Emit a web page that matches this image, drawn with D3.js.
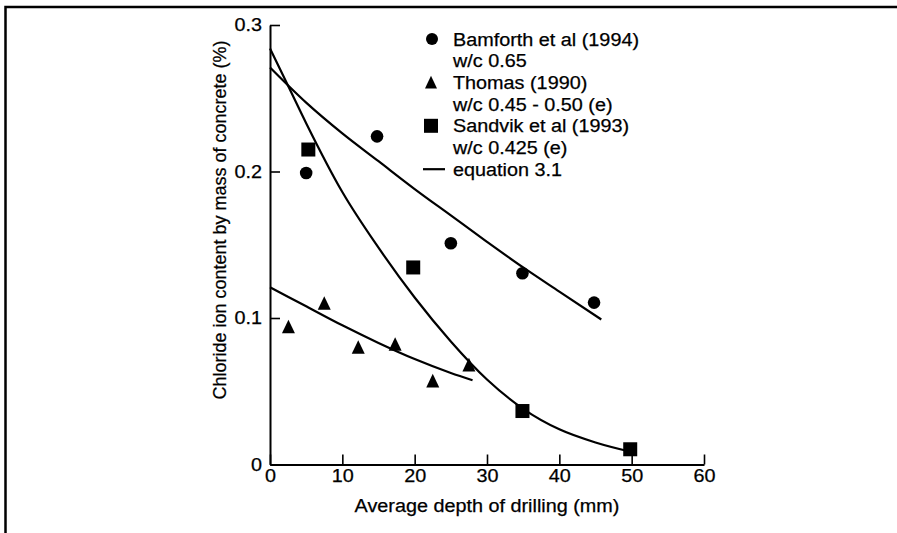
<!DOCTYPE html>
<html>
<head>
<meta charset="utf-8">
<script src="https://cdn.jsdelivr.net/npm/d3@7"></script>
<style>
  html, body { margin: 0; padding: 0; background: #fff; }
  svg { display: block; }
  text { font-family: "Liberation Sans", Arial, Helvetica, sans-serif; fill: #000; stroke: #000; stroke-width: 0.25px; }
</style>
</head>
<body>
<svg id="chart" width="897" height="533"></svg>
<script>
// Measured chloride profiles: depth (mm) vs chloride content (% by mass of concrete)
const bamforthDepth  = [5, 14.8, 25, 34.9, 44.8];
const bamforthValue  = [0.199, 0.224, 0.151, 0.1305, 0.1105];
const thomasDepth    = [2.55, 7.5, 12.2, 17.3, 22.5, 27.5];
const thomasValue    = [0.094, 0.110, 0.080, 0.082, 0.057, 0.068];
const sandvikDepth   = [5.3, 19.8, 34.9, 49.8];
const sandvikValue   = [0.215, 0.1345, 0.0365, 0.0104];

// Fitted profiles (equation 3.1)
const fitBamforthDepth = [0, 5, 10, 15, 20, 25, 30, 35, 40, 45.8];
const fitBamforthValue = [0.271, 0.247, 0.226, 0.207, 0.188, 0.170, 0.152, 0.1345, 0.118, 0.099];
const fitThomasDepth   = [0, 5, 10, 15, 20, 25, 28];
const fitThomasValue   = [0.121, 0.108, 0.095, 0.083, 0.072, 0.0625, 0.0575];
const fitSandvikDepth  = [0, 2.65, 5, 10, 15, 20, 25, 30, 35, 40, 45, 50];
const fitSandvikValue  = [0.284, 0.257, 0.233, 0.186, 0.148, 0.114, 0.084, 0.058, 0.038, 0.024, 0.015, 0.0085];

const xTicks = [0, 10, 20, 30, 40, 50, 60];
const yTicks = [0, 0.1, 0.2, 0.3];
const yTickLabels = ["0", "0.1", "0.2", "0.3"];

const legendLines = [
  "Bamforth et al (1994)", "w/c 0.65",
  "Thomas (1990)", "w/c 0.45 - 0.50 (e)",
  "Sandvik et al (1993)", "w/c 0.425 (e)",
  "equation 3.1"
];
const legendSymbols = ["circle", null, "triangle", null, "square", null, "line"];

const xTitle = "Average depth of drilling (mm)";
const yTitle = "Chloride ion content by mass of concrete (%)";

const svg = d3.select("#chart");
const FONT = 18;
const STRETCH = 1.1;

// widen horizontal text glyphs a little
function stretch(sel, k) {
  sel.each(function () {
    const w = this.getComputedTextLength();
    d3.select(this).attr("textLength", w * k).attr("lengthAdjust", "spacingAndGlyphs");
  });
}

svg.append("rect").attr("width", 897).attr("height", 533).attr("fill", "#fff");

// page frame
svg.append("path")
  .attr("d", "M5.5,533 L5.5,7 L897,7")
  .attr("fill", "none").attr("stroke", "#000").attr("stroke-width", 2.5);

const x = d3.scaleLinear().domain([0, 60]).range([270, 704]);
const y = d3.scaleLinear().domain([0, 0.3]).range([464.5, 25]);

// x axis
const gx = svg.append("g").attr("transform", `translate(0,${y(0)})`)
  .call(d3.axisBottom(x).tickValues(xTicks).tickFormat(d3.format("d"))
        .tickSizeInner(-10).tickSizeOuter(0).tickPadding(5));
gx.select(".domain").attr("stroke-width", 2);
gx.selectAll(".tick line").attr("stroke-width", 1.6);
gx.selectAll(".tick text").attr("font-size", FONT).attr("font-family", null).call(stretch, STRETCH);

// y axis
const gy = svg.append("g").attr("transform", `translate(${x(0)},0)`)
  .call(d3.axisLeft(y).tickValues(yTicks).tickFormat((d, i) => yTickLabels[i])
        .tickSizeInner(-10).tickSizeOuter(0).tickPadding(8));
gy.select(".domain").attr("stroke-width", 2);
gy.selectAll(".tick line").attr("stroke-width", 1.6);
gy.selectAll(".tick text").attr("font-size", FONT).attr("font-family", null).call(stretch, STRETCH);

// axis titles
svg.append("text").attr("x", 487).attr("y", 512).attr("text-anchor", "middle")
  .attr("font-size", FONT).text(xTitle).call(stretch, STRETCH);
svg.append("text").attr("transform", "translate(226,220) rotate(-90)")
  .attr("text-anchor", "middle").attr("font-size", FONT).text(yTitle);

// fitted curves
const line = d3.line().x(d => x(d[0])).y(d => y(d[1])).curve(d3.curveMonotoneX);
const fits = [
  d3.zip(fitBamforthDepth, fitBamforthValue),
  d3.zip(fitThomasDepth, fitThomasValue),
  d3.zip(fitSandvikDepth, fitSandvikValue)
];
svg.append("g").selectAll("path").data(fits).join("path")
  .attr("d", line).attr("fill", "none").attr("stroke", "#000").attr("stroke-width", 2.2);

// markers
function trianglePath(cx, cy, s) {
  return `M${cx},${cy - s * 0.55} L${cx + s * 0.5},${cy + s * 0.5} L${cx - s * 0.5},${cy + s * 0.5} Z`;
}
svg.append("g").selectAll("circle").data(d3.zip(bamforthDepth, bamforthValue)).join("circle")
  .attr("cx", d => x(d[0])).attr("cy", d => y(d[1])).attr("r", 6.3).attr("fill", "#000");
svg.append("g").selectAll("path").data(d3.zip(thomasDepth, thomasValue)).join("path")
  .attr("d", d => trianglePath(x(d[0]), y(d[1]), 13)).attr("fill", "#000");
svg.append("g").selectAll("rect").data(d3.zip(sandvikDepth, sandvikValue)).join("rect")
  .attr("x", d => x(d[0]) - 7).attr("y", d => y(d[1]) - 7)
  .attr("width", 14).attr("height", 14).attr("fill", "#000");

// legend
const legendX = 453, legendTop = 45.5, legendStep = 21.7;
const lg = svg.append("g");
legendLines.forEach((t, i) => {
  const by = legendTop + i * legendStep;
  lg.append("text").attr("x", legendX).attr("y", by).attr("font-size", FONT).text(t).call(stretch, STRETCH);
  const cy = by - 6.5;
  const s = legendSymbols[i];
  if (s === "circle") lg.append("circle").attr("cx", 432).attr("cy", cy).attr("r", 6).attr("fill", "#000");
  if (s === "triangle") lg.append("path").attr("d", trianglePath(431, cy, 12)).attr("fill", "#000");
  if (s === "square") lg.append("rect").attr("x", 424).attr("y", cy - 7).attr("width", 14).attr("height", 14).attr("fill", "#000");
  if (s === "line") lg.append("line").attr("x1", 423).attr("x2", 445).attr("y1", cy).attr("y2", cy)
    .attr("stroke", "#000").attr("stroke-width", 2.2);
});
</script>
</body>
</html>
